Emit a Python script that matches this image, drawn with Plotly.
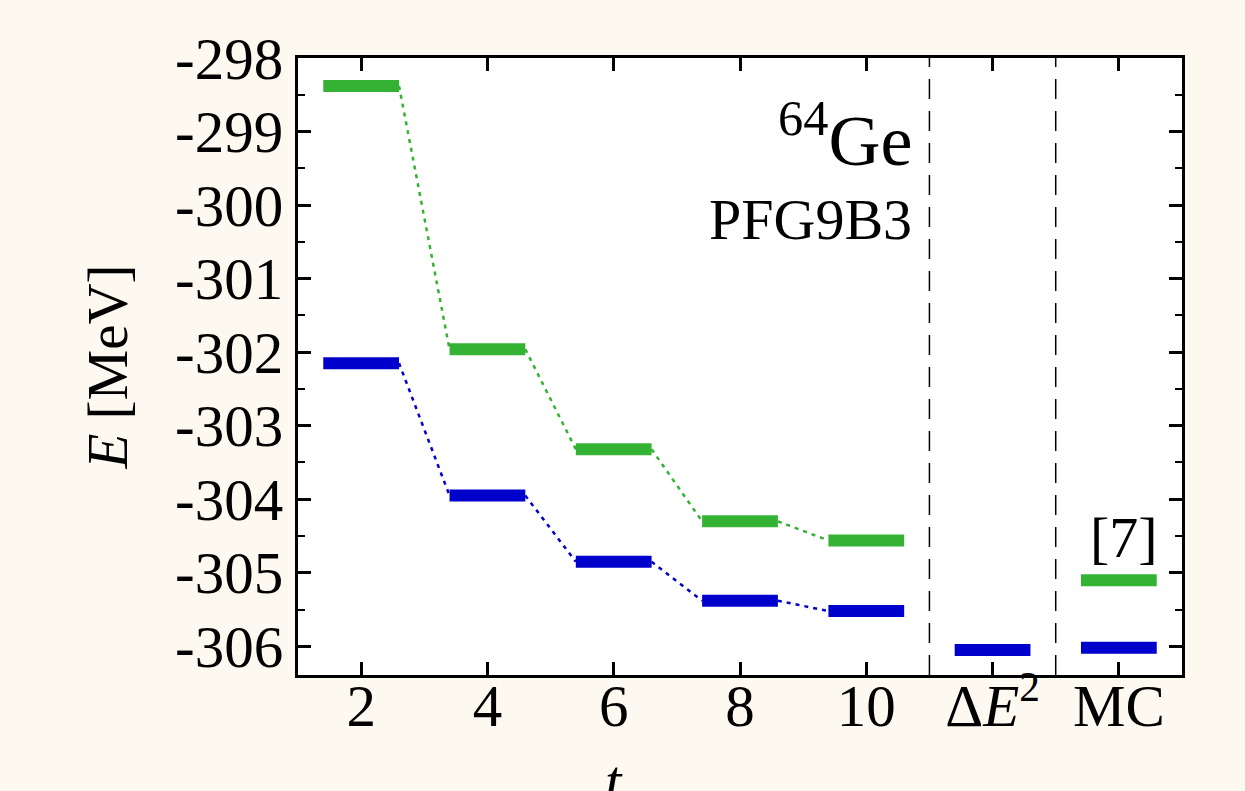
import plotly.graph_objects as go

# ---- data ----
t_vals = [2, 4, 6, 8, 10]
green_t = [-298.38, -301.96, -303.32, -304.30, -304.56]
blue_t = [-302.15, -303.95, -304.85, -305.38, -305.52]
dE2_x = 12
dE2_blue = -306.05
mc_x = 14
mc_green = -305.10
mc_blue = -306.02

x_tickvals = [2, 4, 6, 8, 10, 12, 14]
x_ticktext = ["2", "4", "6", "8", "10", "Δ<i>E</i><sup>2</sup>", "MC"]
y_tickvals = [-298, -299, -300, -301, -302, -303, -304, -305, -306]
y_ticktext = ["-298", "-299", "-300", "-301", "-302", "-303", "-304", "-305", "-306"]

GREEN = "rgb(52,178,51)"
BLUE = "rgb(0,0,204)"
BG = "rgb(253,249,241)"
HW = 0.6  # half width of level bars
FONT = "Liberation Serif"


def levels(xs, ys):
    X, Y = [], []
    for x, y in zip(xs, ys):
        X += [x - HW, x + HW, None]
        Y += [y, y, None]
    return X, Y


def connectors(xs, ys):
    X, Y = [], []
    for i in range(len(xs) - 1):
        X += [xs[i] + HW, xs[i + 1] - HW, None]
        Y += [ys[i], ys[i + 1], None]
    return X, Y


fig = go.Figure()

for ys, col in [(green_t, GREEN), (blue_t, BLUE)]:
    cx, cy = connectors(t_vals, ys)
    fig.add_trace(go.Scatter(x=cx, y=cy, mode="lines",
                             line=dict(color=col, width=2.5, dash="4px,5px"),
                             hoverinfo="skip", showlegend=False))

gx, gy = levels(t_vals + [mc_x], green_t + [mc_green])
fig.add_trace(go.Scatter(x=gx, y=gy, mode="lines", line=dict(color=GREEN, width=12),
                         showlegend=False))
bx, by = levels(t_vals + [dE2_x, mc_x], blue_t + [dE2_blue, mc_blue])
fig.add_trace(go.Scatter(x=bx, y=by, mode="lines", line=dict(color=BLUE, width=12),
                         showlegend=False))

for xv in [11, 13]:
    fig.add_shape(type="line", x0=xv, x1=xv, y0=0, y1=1, xref="x", yref="paper",
                  line=dict(color="black", width=1.5, dash="20px,12px"), layer="below")

fig.add_annotation(x=10.75, y=-299.05, xref="x", yref="y", text="<sup>64</sup>Ge",
                   showarrow=False, xanchor="right", yanchor="middle",
                   font=dict(family=FONT, size=72, color="black"))
fig.add_annotation(x=10.75, y=-300.2, xref="x", yref="y", text="PFG9B3",
                   showarrow=False, xanchor="right", yanchor="middle",
                   font=dict(family=FONT, size=58, color="black"))
fig.add_annotation(x=14.65, y=-304.52, xref="x", yref="y", text="[7]",
                   showarrow=False, xanchor="right", yanchor="middle",
                   font=dict(family=FONT, size=58, color="black"))
fig.add_annotation(x=6, y=-0.115, xref="x", yref="paper", text="<i>t</i>",
                   showarrow=False, xanchor="center", yanchor="top",
                   font=dict(family=FONT, size=59, color="black"))

fig.update_layout(
    width=1245, height=791,
    margin=dict(l=298, r=63, t=58, b=116),
    paper_bgcolor=BG,
    plot_bgcolor="white",
    font=dict(family=FONT, size=59, color="black"),
    xaxis=dict(range=[1, 15], tickvals=x_tickvals, ticktext=x_ticktext,
               ticks="inside", ticklen=13, tickwidth=2.5, tickcolor="black",
               ticklabelstandoff=-23,
               showline=True, linecolor="black", linewidth=3, mirror="ticks",
               showgrid=False, zeroline=False),
    yaxis=dict(range=[-306.39, -298], tickvals=y_tickvals, ticktext=y_ticktext,
               ticks="inside", ticklen=13, tickwidth=2.5, tickcolor="black",
               minor=dict(ticks="inside", ticklen=7, tickwidth=2, tickcolor="black",
                          dtick=0.5, showgrid=False),
               showline=True, linecolor="black", linewidth=3, mirror="ticks",
               showgrid=False, zeroline=False,
               title=dict(text="<i>E</i> [MeV]", standoff=30,
                          font=dict(family=FONT, size=57, color="black"))),
)

fig.write_html(
    "out.html",
    config={"displayModeBar": False},
    post_script="document.body.style.margin='0';document.body.style.overflow='hidden';"
                "document.body.style.background='" + BG + "';",
)
